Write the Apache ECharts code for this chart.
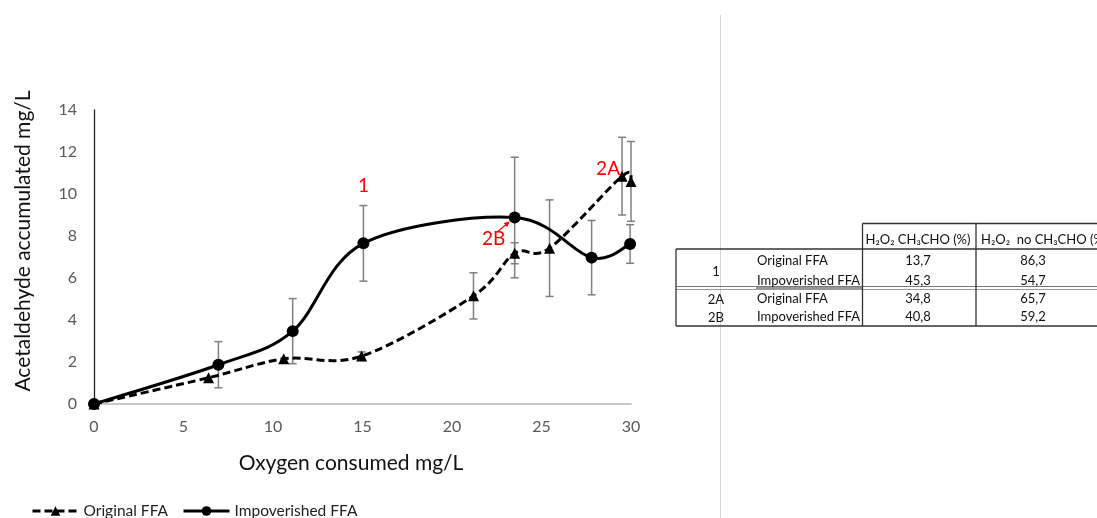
<!DOCTYPE html>
<html><head><meta charset="utf-8">
<script src="https://cdn.jsdelivr.net/npm/echarts@6/dist/echarts.min.js"></script>
<style>html,body{margin:0;padding:0;background:#fff}#c{width:1097px;height:518px}</style>
</head><body><div id="c"></div>
<script>
// ---- data ----
const originalX   = [0, 6.4, 10.6, 14.95, 21.2, 23.5, 25.45, 29.5, 30];
const originalY   = [0, 1.25, 2.15, 2.28, 5.15, 7.18, 7.42, 10.85, 10.6];
const originalErr = [0, 0, 0, 0.2, 1.1, 0.5, 2.3, 1.85, 1.9];

const impovX   = [0, 6.95, 11.1, 15.05, 23.5, 27.8, 29.95];
const impovY   = [0, 1.87, 3.47, 7.65, 8.88, 6.97, 7.62];
const impovErr = [0, 1.1, 1.55, 1.8, 2.87, 1.77, 0.92];

const xMin = 0, xMax = 30, xStep = 5;
const yMin = 0, yMax = 14, yStep = 2;

const tableHeaders = ['H\u2082O\u2082 CH\u2083CHO (%)', 'H\u2082O\u2082  no CH\u2083CHO (%)'];
const tableGroups  = ['1', '1', '2A', '2B'];
const tableSamples = ['Original FFA', 'Impoverished FFA', 'Original FFA', 'Impoverished FFA'];
const tableColA    = ['13,7', '45,3', '34,8', '40,8'];
const tableColB    = ['86,3', '54,7', '65,7', '59,2'];

const annotations = [
  {text: '1',  x: 15.05, y: 7.65},
  {text: '2B', x: 23.5,  y: 8.88},
  {text: '2A', x: 29.5,  y: 10.85}
];

// ---- chart ----
const FONT = 'Lato, "Open Sans", sans-serif';
const chart = echarts.init(document.getElementById('c'));

function errData(xs, ys, es) {
  const out = [];
  xs.forEach((x, i) => { if (es[i] > 0) out.push([x, ys[i] - es[i], ys[i] + es[i]]); });
  return out;
}
function renderErr(params, api) {
  const x = api.value(0), lo = api.value(1), hi = api.value(2);
  const p1 = api.coord([x, hi]), p2 = api.coord([x, lo]);
  const w = 4;
  const style = {stroke: '#7f7f7f', lineWidth: 1.5};
  return {type: 'group', children: [
    {type: 'line', shape: {x1: p1[0], y1: p1[1], x2: p2[0], y2: p2[1]}, style},
    {type: 'line', shape: {x1: p1[0] - w, y1: p1[1], x2: p1[0] + w, y2: p1[1]}, style},
    {type: 'line', shape: {x1: p2[0] - w, y1: p2[1], x2: p2[0] + w, y2: p2[1]}, style}
  ]};
}
// spreadsheet-style smoothed curve (Catmull-Rom through the points, in pixel space)
function smoothRenderer(xs, ys, dash) {
  return function (params, api) {
    if (params.dataIndex !== 0) return null;
    const P = xs.map((x, i) => api.coord([x, ys[i]]));
    let d = 'M' + P[0][0] + ' ' + P[0][1];
    for (let i = 0; i < P.length - 1; i++) {
      const p0 = P[Math.max(0, i - 1)], p1 = P[i], p2 = P[i + 1], p3 = P[Math.min(P.length - 1, i + 2)];
      const c1x = p1[0] + (p2[0] - p0[0]) / 6, c1y = p1[1] + (p2[1] - p0[1]) / 6;
      const c2x = p2[0] - (p3[0] - p1[0]) / 6, c2y = p2[1] - (p3[1] - p1[1]) / 6;
      d += ' C' + c1x + ' ' + c1y + ' ' + c2x + ' ' + c2y + ' ' + p2[0] + ' ' + p2[1];
    }
    return {type: 'path', shape: {pathData: d}, style: {stroke: '#000', fill: null, lineWidth: 3, lineDash: dash}};
  };
}

// table graphics
const tbl = [];
const dark = '#333';
const rowY = [261, 280.5, 298.5, 317];
function hline(y, x1, x2, color, w) { tbl.push({type: 'line', shape: {x1, y1: y, x2, y2: y}, style: {stroke: color || dark, lineWidth: w || 1.3}, silent: true}); }
function vline(x, y1, y2) { tbl.push({type: 'line', shape: {x1: x, y1, x2: x, y2}, style: {stroke: dark, lineWidth: 1.3}, silent: true}); }
function txt(t, x, y, align) { tbl.push({type: 'text', x, y, style: {text: t, font: '13px ' + FONT, fill: '#111', align: align || 'center', verticalAlign: 'middle'}, silent: true}); }
hline(223.5, 862.5, 1097);
hline(249, 676, 1097);
hline(286.5, 676, 1097, '#777', 1);
hline(289.5, 676, 1097, '#999', 1);
hline(288, 756, 862.5, dark, 1.2);
hline(326, 676, 1097);
vline(676, 249, 326);
vline(862.5, 223.5, 326);
vline(976, 223.5, 326);
txt(tableHeaders[0], 918, 240);
txt(tableHeaders[1], 981, 240, 'left');
let gi = 0;
while (gi < tableGroups.length) {
  let gj = gi;
  while (gj + 1 < tableGroups.length && tableGroups[gj + 1] === tableGroups[gi]) gj++;
  txt(tableGroups[gi], 716, (rowY[gi] + rowY[gj]) / 2 + 1);
  gi = gj + 1;
}
tableSamples.forEach((s, i) => {
  txt(s, 757, rowY[i], 'left');
  txt(tableColA[i], 918, rowY[i]);
  txt(tableColB[i], 1033, rowY[i]);
});

const DASH = [8, 4];
const option = {
  animation: false,
  backgroundColor: '#fff',
  grid: {left: 94, right: 466, top: 110, bottom: 114, containLabel: false},
  xAxis: {
    type: 'value', min: xMin, max: xMax, interval: xStep,
    axisLine: {show: true, onZero: false, lineStyle: {color: '#c8c8c8', width: 2}},
    axisTick: {show: false},
    splitLine: {show: false},
    axisLabel: {color: '#595959', fontSize: 16, fontFamily: FONT, margin: 15}
  },
  yAxis: {
    type: 'value', min: yMin, max: yMax, interval: yStep,
    axisLine: {show: true, lineStyle: {color: '#222', width: 1.3}},
    axisTick: {show: false},
    splitLine: {show: false},
    axisLabel: {color: '#595959', fontSize: 16, fontFamily: FONT, margin: 17}
  },
  legend: {
    data: [
      {name: 'Original FFA', lineStyle: {color: '#000', width: 3, type: DASH, opacity: 1}},
      {name: 'Impoverished FFA', lineStyle: {color: '#000', width: 3, type: 'solid', opacity: 1}}
    ],
    left: 26, top: 498, itemWidth: 46, itemHeight: 12, itemGap: 14,
    textStyle: {fontSize: 15.5, fontFamily: FONT, color: '#222'}
  },
  series: [
    {
      type: 'custom', name: 'errOriginal', renderItem: renderErr, z: 1,
      encode: {x: 0, y: [1, 2]}, data: errData(originalX, originalY, originalErr), silent: true
    },
    {
      type: 'custom', name: 'errImpov', renderItem: renderErr, z: 1,
      encode: {x: 0, y: [1, 2]}, data: errData(impovX, impovY, impovErr), silent: true
    },
    {
      type: 'custom', name: 'curveOriginal', renderItem: smoothRenderer(originalX, originalY, DASH), z: 2,
      encode: {x: 0, y: 1}, data: originalX.map((x, i) => [x, originalY[i]]), silent: true
    },
    {
      type: 'custom', name: 'curveImpov', renderItem: smoothRenderer(impovX, impovY, null), z: 2,
      encode: {x: 0, y: 1}, data: impovX.map((x, i) => [x, impovY[i]]), silent: true
    },
    {
      name: 'Original FFA', type: 'line', z: 3,
      data: originalX.map((x, i) => [x, originalY[i]]),
      symbol: 'triangle', symbolSize: 11,
      lineStyle: {color: '#000', width: 3, type: DASH, opacity: 0},
      itemStyle: {color: '#000'}
    },
    {
      name: 'Impoverished FFA', type: 'line', z: 4,
      data: impovX.map((x, i) => [x, impovY[i]]),
      symbol: 'circle', symbolSize: 12,
      lineStyle: {color: '#000', width: 3, opacity: 0},
      itemStyle: {color: '#000'}
    }
  ],
  graphic: []
};
chart.setOption(option);

// annotations placed relative to their data points
const ann = [];
const annOffsets = {'1': [0, -57], '2B': [-21, 21], '2A': [-14, -7]};
annotations.forEach(a => {
  const p = chart.convertToPixel({gridIndex: 0}, [a.x, a.y]);
  const o = annOffsets[a.text];
  ann.push({type: 'text', x: p[0] + o[0], y: p[1] + o[1], style: {text: a.text, font: '19px ' + FONT, fill: '#ff0000', align: 'center', verticalAlign: 'middle'}, silent: true});
});
// 2B arrow
const pb = chart.convertToPixel({gridIndex: 0}, [annotations[1].x, annotations[1].y]);
const ax1 = pb[0] - 17, ay1 = pb[1] + 14, ax2 = pb[0] - 6, ay2 = pb[1] + 5;
ann.push({type: 'line', shape: {x1: ax1, y1: ay1, x2: ax2, y2: ay2}, style: {stroke: '#ff0000', lineWidth: 1.2}, silent: true});
ann.push({type: 'polygon', shape: {points: [[ax2 + 1, ay2 - 1], [ax2 - 5, ay2 + 0.5], [ax2 - 1.5, ay2 + 4.5]]}, style: {fill: '#ff0000'}, silent: true});

const others = [
  {type: 'line', shape: {x1: 720.5, y1: 15, x2: 720.5, y2: 518}, style: {stroke: '#d4d4d4', lineWidth: 1}, silent: true, z: -1},
  {type: 'text', x: 351, y: 463, style: {text: 'Oxygen consumed mg/L', font: '21px ' + FONT, fill: '#111', align: 'center', verticalAlign: 'middle'}, silent: true},
  {type: 'text', x: 23, y: 241, rotation: Math.PI / 2, style: {text: 'Acetaldehyde accumulated mg/L', font: '21px ' + FONT, fill: '#111', align: 'center', verticalAlign: 'middle'}, silent: true}
];
chart.setOption({graphic: others.concat(tbl, ann)});
</script>
</body></html>
